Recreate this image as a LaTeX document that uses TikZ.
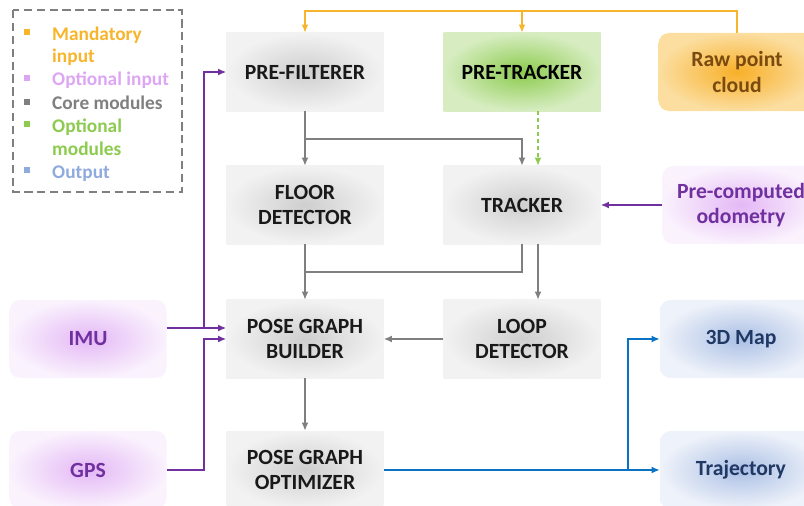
\documentclass[tikz,border=0pt]{standalone}
\usepackage{fontspec}
\setmainfont{Carlito}
\usepackage{tikz}
\usetikzlibrary{positioning, arrows.meta, calc}

\definecolor{mandCol}{HTML}{F7B52C}
\definecolor{optInCol}{HTML}{DDA6F3}
\definecolor{coreCol}{HTML}{7F7F7F}
\definecolor{optModCol}{HTML}{8CCB4E}
\definecolor{outCol}{HTML}{8FAADC}
\definecolor{purpCol}{HTML}{7030A0}
\definecolor{blueCol}{HTML}{0A72C4}
\definecolor{navyCol}{HTML}{1F3864}
\definecolor{brownCol}{HTML}{7A4A0E}

\begin{document}
\begin{tikzpicture}[
  x=0.03cm, y=-0.03cm,
  box/.style={rectangle, minimum width=4.71cm, minimum height=2.34cm, align=center,
    font=\fontsize{18.5}{21.5}\selectfont\bfseries},
  core/.style={box, shading=radial, inner color=black!19, outer color=black!5, text=black!90},
  optmod/.style={box, shading=radial, inner color=optModCol, outer color=optModCol!35},
  rawbox/.style={box, rounded corners=9pt, shading=radial, inner color=mandCol!90!orange, outer color=mandCol!45, text=brownCol},
  inbox/.style={box, rounded corners=9pt, shading=radial, inner color=optInCol!80, outer color=optInCol!15, text=purpCol},
  outbox/.style={box, minimum width=4.86cm, rounded corners=9pt, shading=radial, inner color=outCol!75, outer color=outCol!15, text=navyCol},
  arrow/.style={-{Latex[length=7pt, width=6pt]}, line width=1.4pt},
  coreline/.style={line width=1.4pt, draw=coreCol},
  legtext/.style={anchor=base west, align=left, inner sep=0pt, font=\fontsize{16.5}{19.5}\selectfont\bfseries},
  legsq/.style={rectangle, inner sep=0pt, minimum size=5pt}
]

\useasboundingbox (0,0) rectangle (804,506);
\clip (0,0) rectangle (804,506);

% Legend
\draw[coreCol, line width=1.2pt, dash pattern=on 7pt off 4pt] (13,10) rectangle (182,192);
\node[legsq, fill=mandCol] (sq1) at (27,32) {};
\node[legtext, text=mandCol] (leg1) at (52,63) {Mandatory\\input};
\node[legsq, fill=optInCol] (sq2) at (27,78) {};
\node[legtext, text=optInCol] (leg2) at (52,86) {Optional input};
\node[legsq, fill=coreCol] (sq3) at (27,102) {};
\node[legtext, text=coreCol] (leg3) at (52,110) {Core modules};
\node[legsq, fill=optModCol] (sq4) at (27,124) {};
\node[legtext, text=optModCol] (leg4) at (52,155) {Optional\\modules};
\node[legsq, fill=outCol] (sq5) at (27,170) {};
\node[legtext, text=outCol] (leg5) at (52,178) {Output};

% Modules
\node[core] (pref) at (305,72) {PRE-FILTERER};
\node[optmod] (pretr) at (522,72) {PRE-TRACKER};
\node[rawbox] (raw) at (737,72) {Raw point\\cloud};
\node[core] (floor) at (305,205) {FLOOR\\DETECTOR};
\node[core] (track) at (522,205) {TRACKER};
\node[inbox] (odom) at (741,205) {Pre-computed\\odometry};
\node[inbox] (imu) at (88,339) {IMU};
\node[core] (pgb) at (305,339) {POSE GRAPH\\BUILDER};
\node[core] (loop) at (522,339) {LOOP\\DETECTOR};
\node[outbox] (map) at (741,339) {3D Map};
\node[inbox] (gps) at (88,470) {GPS};
\node[core] (pgo) at (305,470) {POSE GRAPH\\OPTIMIZER};
\node[outbox] (traj) at (741,470) {Trajectory};

% Mandatory input
\coordinate (otop) at (737,11);
\draw[arrow, mandCol] (raw.north) |- (otop) -| (pref.north);
\draw[arrow, mandCol] (pretr.north |- otop) -- (pretr.north);

% Core flow
\draw[arrow, coreline] (pref.south) -- (floor.north);
\draw[arrow, coreline] (pref.south) -- ++(0,28) -| (track.north);
\draw[arrow, optModCol, dashed] ([xshift=0.48cm]pretr.south) -- ([xshift=0.48cm]track.north);
\draw[arrow, coreline] (floor.south) -- (pgb.north);
\draw[coreline] (track.south) |- ($(floor.south)!0.5!(pgb.north)$);
\draw[arrow, coreline] ([xshift=0.48cm]track.south) -- ([xshift=0.48cm]loop.north);
\draw[arrow, coreline] (loop.west) -- (pgb.east);
\draw[arrow, coreline] (pgb.south) -- (pgo.north);

% Optional inputs
\draw[arrow, purpCol] (odom.west) -- (track.east);
\draw[arrow, purpCol] ([yshift=0.33cm]imu.east) -- ([yshift=0.33cm]pgb.west);
\draw[arrow, purpCol] ([yshift=0.33cm]imu.east) -- ++(37,0) |- (pref.west);
\draw[arrow, purpCol] (gps.east) -- ++(37,0) |- (pgb.west);

% Outputs
\draw[arrow, blueCol] (pgo.east) -- (traj.west);
\draw[arrow, blueCol] ($(pgo.east)!0.885!(traj.west)$) |- (map.west);

\end{tikzpicture}
\end{document}
